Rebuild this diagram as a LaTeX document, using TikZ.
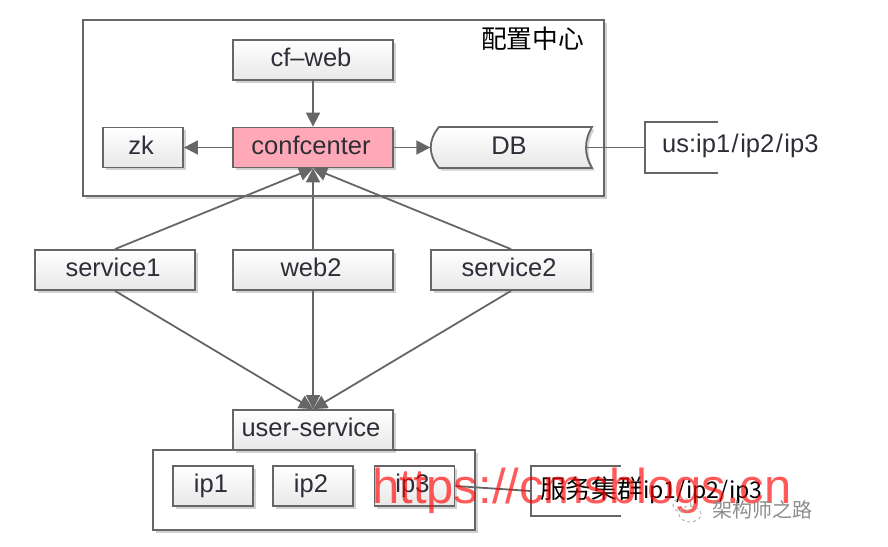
\documentclass[tikz,border=0pt]{standalone}
\usepackage{fontspec}
\setmainfont{Liberation Sans}
\newfontfamily\cjk{Noto Sans CJK SC}
\usetikzlibrary{arrows.meta,shadows,shapes.geometric}
\definecolor{linegray}{HTML}{666666}
\definecolor{textdark}{HTML}{2E2E38}
\definecolor{pinkfill}{HTML}{FFA9B8}
\newcommand{\wideslash}{\hspace{1.5pt}/\hspace{1.5pt}}
\tikzset{
  shadowed/.style={drop shadow={shadow xshift=2.5pt,shadow yshift=-2.5pt,fill=black,opacity=.18}},
  boxtext/.style={text=textdark,font=\fontsize{25.5}{28}\selectfont,text height=18pt,text depth=5pt,
    execute at end node={\hspace*{4pt}}},
  boxnode/.style={draw=linegray,line width=1.8pt,top color=white,bottom color=black!9,shadowed,
    minimum width=#1,minimum height=40pt,inner sep=0pt,boxtext},
  boxnode/.default=160pt,
  pinknode/.style={boxnode,top color=pinkfill,bottom color=pinkfill},
  groupbox/.style={draw=linegray,line width=1.8pt,fill=white,shadowed,inner sep=0pt},
  label/.style={inner sep=0pt,text=textdark,font=\fontsize{25.5}{28}\selectfont},
  cjklabel/.style={inner sep=0pt,text=black,font=\cjk\fontsize{25.7}{28}\selectfont},
  hollow/.style={inner sep=0pt,minimum height=50pt},
  link/.style={draw=linegray,line width=1.8pt},
  arrowlink/.style={link,-{Triangle[length=14pt,width=14pt]}},
  bracket/.style={draw=linegray,line width=1.8pt},
  watermark/.style={inner sep=0pt,text=red,opacity=.65,font=\fontsize{49}{52}\selectfont},
  wechat/.style={inner sep=0pt,text=black!45,font=\cjk\fontsize{20}{24}\selectfont},
  wechatbubble/.style={draw=black!30,dashed,line width=1pt,ellipse,inner sep=0pt},
}
\begin{document}
\begin{tikzpicture}[x=1pt,y=-1pt]
\useasboundingbox (0,0) rectangle (888,546);
% group frames
\node[groupbox,minimum width=521pt,minimum height=176pt] (config) at (343.5,108) {};
\node[groupbox,minimum width=322pt,minimum height=80pt] (cluster) at (314,490) {};
\node[cjklabel,anchor=base east] (configlabel) at (584,48) {配置中心};
% DB shape
\path[draw=linegray,line width=1.8pt,top color=white,bottom color=black!9,shadowed]
  (439,127) -- (592,127) .. controls (584,140) and (584,155) .. (592,168)
  -- (439,168) .. controls (428,155) and (428,140) .. (439,127) -- cycle;
% nodes
\node[boxnode] (cfweb) at (313,60) {cf–web};
\node[pinknode] (confcenter) at (313,147.5) {confcenter};
\node[boxnode=80pt] (zk) at (143,147.5) {zk};
\node[boxtext,inner sep=0pt,minimum width=161pt,minimum height=41pt] (db) at (511,147.5) {DB};
\coordinate (dbout) at (587,147.5);
\node[boxnode] (service1) at (115,270) {service1};
\node[boxnode] (web2) at (313,270) {web2};
\node[boxnode] (service2) at (511,270) {service2};
\node[boxnode] (userservice) at (313,430) {user-service};
\node[boxnode=80pt] (ip1) at (213,486) {ip1};
\node[boxnode=80pt] (ip2) at (313,486) {ip2};
\node[boxnode=80pt] (ip3) at (414.5,486) {ip3};
% notes
\node[hollow,minimum width=73pt] (usnote) at (681.5,147.5) {};
\node[label,anchor=base west] (ustext) at (662,152) {us:ip1\wideslash ip2\wideslash ip3};
\draw[bracket] (usnote.north east) -- (usnote.north west) -- (usnote.south west) -- (usnote.south east);
\node[hollow,minimum width=90pt] (clusternote) at (576,491) {};
\node[cjklabel,anchor=base west] (clustertext) at (540,498) {服务集群\fontsize{23}{28}\selectfont ip1/ip2/ip3};
\draw[bracket] (clusternote.north east) -- (clusternote.north west) -- (clusternote.south west) -- (clusternote.south east);
% connectors
\draw[arrowlink] (cfweb.south) -- (confcenter.north);
\draw[arrowlink] (confcenter.west) -- (zk.east);
\draw[arrowlink] (confcenter.east) -- (db.west);
\draw[link] (dbout) -- (usnote.west);
\draw[arrowlink] (service1.north) -- (confcenter.south);
\draw[arrowlink] (web2.north) -- (confcenter.south);
\draw[arrowlink] (service2.north) -- (confcenter.south);
\draw[arrowlink] (service1.south) -- (userservice.north);
\draw[arrowlink] (web2.south) -- (userservice.north);
\draw[arrowlink] (service2.south) -- (userservice.north);
\draw[link] (ip3.east) -- (clusternote.west);
% watermarks
\node[watermark,anchor=base west] (wmark) at (372,503) {https://cmsblogs.cn};
\node[wechat,anchor=west] (wtext) at (712,510) {架构师之路};
\node[wechatbubble,minimum width=18pt,minimum height=14pt] (wone) at (682,505) {};
\node[wechatbubble,minimum width=22pt,minimum height=16pt] (wtwo) at (690,514) {};
\end{tikzpicture}
\end{document}
